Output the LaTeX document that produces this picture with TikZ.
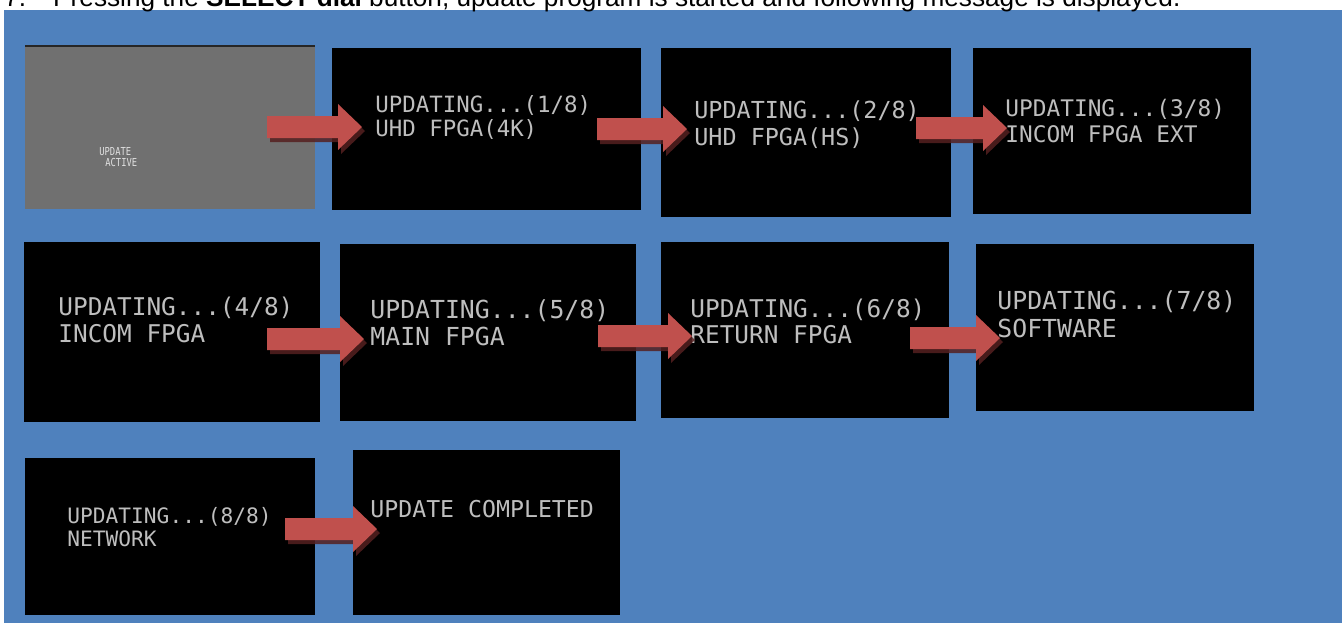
\documentclass[tikz,border=0pt]{standalone}
\usepackage{fontspec}
\setmainfont{Liberation Sans}
\newfontfamily\scrfont{DejaVu Sans Mono}
\newfontfamily\tinyscr[FakeStretch=0.8]{DejaVu Sans Mono}
\usetikzlibrary{fit}
\definecolor{bgblue}{RGB}{79,129,189}
\definecolor{arrred}{RGB}{192,80,77}
\definecolor{arrshadow}{RGB}{85,32,32}
\definecolor{scrgray}{RGB}{112,112,112}
\definecolor{scrtxt}{RGB}{190,190,190}
\definecolor{tinytxt}{RGB}{225,225,225}
\begin{document}
\begin{tikzpicture}[x=0.5pt,y=-0.5pt,
  screen/.style={fill=black, inner sep=0pt, outer sep=0pt},
  grayscreen/.style={fill=scrgray, inner sep=0pt, outer sep=0pt},
  scrtext/.style={text=scrtxt, inner sep=0pt, anchor=base west,
    font=\scrfont\fontsize{#1}{#1}\selectfont},
  tinytext/.style={text=tinytxt, inner sep=0pt, anchor=base west,
    font=\tinyscr\fontsize{5.5}{5.5}\selectfont},
  blockarrow/.pic={
    \fill[arrshadow,opacity=.85] (3,-7) -- ({#1+3},-7) -- ({#1+3},-19) -- ({#1+27},4)
      -- ({#1+3},27) -- ({#1+3},15) -- (3,15) -- cycle;
    \fill[arrred] (0,-11) -- (#1,-11) -- (#1,-23) -- ({#1+24},0)
      -- (#1,23) -- (#1,11) -- (0,11) -- cycle;
  }]
\useasboundingbox (0,0) rectangle (1342,623);
\clip (0,0) rectangle (1342,623);
\fill[white] (0,0) rectangle (1342,623);
\fill[bgblue] (4,10) rectangle (1342,623);

% caption line, cut off at the top
\node[anchor=base west, inner sep=0pt, font=\fontsize{13.1}{15}\selectfont] (title) at (4,6)
  {7.\hspace{13.5pt}Pressing the \textbf{SELECT dial} button, update program is started and following message is displayed.};

% screens
\node[grayscreen, fit={(25,46) (315,209)}] (s1) {};
\draw[black!85, line width=1pt] (s1.north west) -- (s1.north east);
\node[screen, fit={(332,48) (641,210)}] (s2) {};
\node[screen, fit={(661,48) (951,217)}] (s3) {};
\node[screen, fit={(973,48) (1251,214)}] (s4) {};
\node[screen, fit={(24,242) (320,422)}] (s5) {};
\node[screen, fit={(340,244) (636,421)}] (s6) {};
\node[screen, fit={(661,242) (949,418)}] (s7) {};
\node[screen, fit={(976,244) (1254,411)}] (s8) {};
\node[screen, fit={(25,458) (315,615)}] (s9) {};
\node[screen, fit={(353,450) (620,615)}] (s10) {};

% screen texts
\node[tinytext] (t1a) at (99,155) {UPDATE};
\node[tinytext] (t1b) at (105,166) {ACTIVE};

\node[scrtext=11.2] (t2a) at (375,112) {UPDATING...(1/8)};
\node[scrtext=11.2] (t2b) at (375,136) {UHD FPGA(4K)};
\node[scrtext=11.7] (t3a) at (694,118) {UPDATING...(2/8)};
\node[scrtext=11.7] (t3b) at (694,145) {UHD FPGA(HS)};
\node[scrtext=11.4] (t4a) at (1005,116) {UPDATING...(3/8)};
\node[scrtext=11.4] (t4b) at (1005,142) {INCOM FPGA EXT};
\node[scrtext=12.2] (t5a) at (58,315) {UPDATING...(4/8)};
\node[scrtext=12.2] (t5b) at (58,342) {INCOM FPGA};
\node[scrtext=12.4] (t6a) at (370,318) {UPDATING...(5/8)};
\node[scrtext=12.4] (t6b) at (370,345) {MAIN FPGA};
\node[scrtext=12.2] (t7a) at (690,317) {UPDATING...(6/8)};
\node[scrtext=12.2] (t7b) at (690,343) {RETURN FPGA};
\node[scrtext=12.4] (t8a) at (997,309) {UPDATING...(7/8)};
\node[scrtext=12.4] (t8b) at (997,337) {SOFTWARE};
\node[scrtext=10.6] (t9a) at (67,523) {UPDATING...(8/8)};
\node[scrtext=10.6] (t9b) at (67,546) {NETWORK};
\node[scrtext=11.6] (t10a) at (370,517) {UPDATE COMPLETED};

% block arrows
\coordinate (a1) at (267,127);
\coordinate (a2) at (597,129);
\coordinate (a3) at (916,128);
\coordinate (a4) at (267,339);
\coordinate (a5) at (598,336);
\coordinate (a6) at (910,338);
\coordinate (a7) at (285,529);
\pic at (a1) {blockarrow=71};
\pic at (a2) {blockarrow=66};
\pic at (a3) {blockarrow=67};
\pic at (a4) {blockarrow=73};
\pic at (a5) {blockarrow=70};
\pic at (a6) {blockarrow=66};
\pic at (a7) {blockarrow=68};
\end{tikzpicture}
\end{document}
